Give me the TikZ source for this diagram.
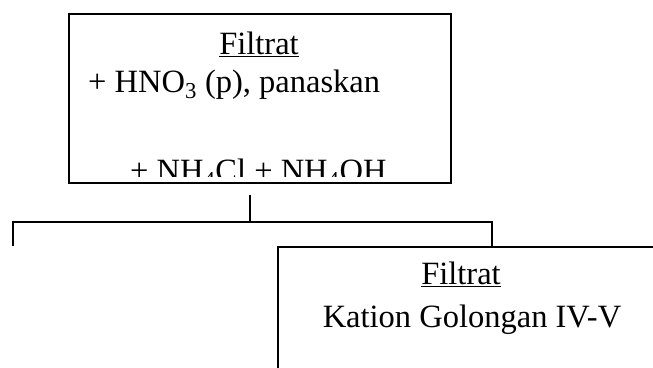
\documentclass[tikz,border=0pt]{standalone}
\usepackage{fontspec}
\setmainfont{Liberation Serif}
\begin{document}
\begin{tikzpicture}[x=1pt, y=-1pt]
    \tikzset{box/.style={draw, line width=1.8pt, inner sep=0pt, anchor=north west},
             txt/.style={inner sep=0pt, font=\fontsize{32.5}{39}\selectfont}}
    \clip (0,0) rectangle (653,367);
    \node [box, minimum width=382pt, minimum height=169pt] (topbox) at (68,13) {};
    \node [box, minimum width=430pt, minimum height=200pt] (botbox) at (277,246) {};
    % text of the upper box, cut off at its lower edge
    \node [txt, anchor=base] (topttl) at (259,54) {\underline{Filtrat}};
    \node [txt, anchor=base west] (reag1) at (88,92) {+ HNO\textsubscript{3} (p), panaskan};
    \begin{scope}
        \clip (68,13) rectangle (450,176);
        \node [txt, anchor=base west] (reag2) at (130,181) {+ NH\textsubscript{4}Cl + NH\textsubscript{4}OH};
    \end{scope}
    \node [txt, anchor=base] (botttl) at (461,284) {\underline{Filtrat}};
    \node [txt, anchor=base] (kation) at (472,327) {Kation Golongan IV-V};
    \coordinate (stem) at (250,195);
    \coordinate (fork) at (250,222);
    \coordinate (leftend) at (13,246);
    \coordinate (rightend) at (492,246);
    \draw [line width=1.5pt] (stem) -- (fork);
    \draw [line width=1.5pt] (leftend) -- (leftend |- fork) -- (rightend |- fork) -- (rightend);
\end{tikzpicture}
\end{document}
